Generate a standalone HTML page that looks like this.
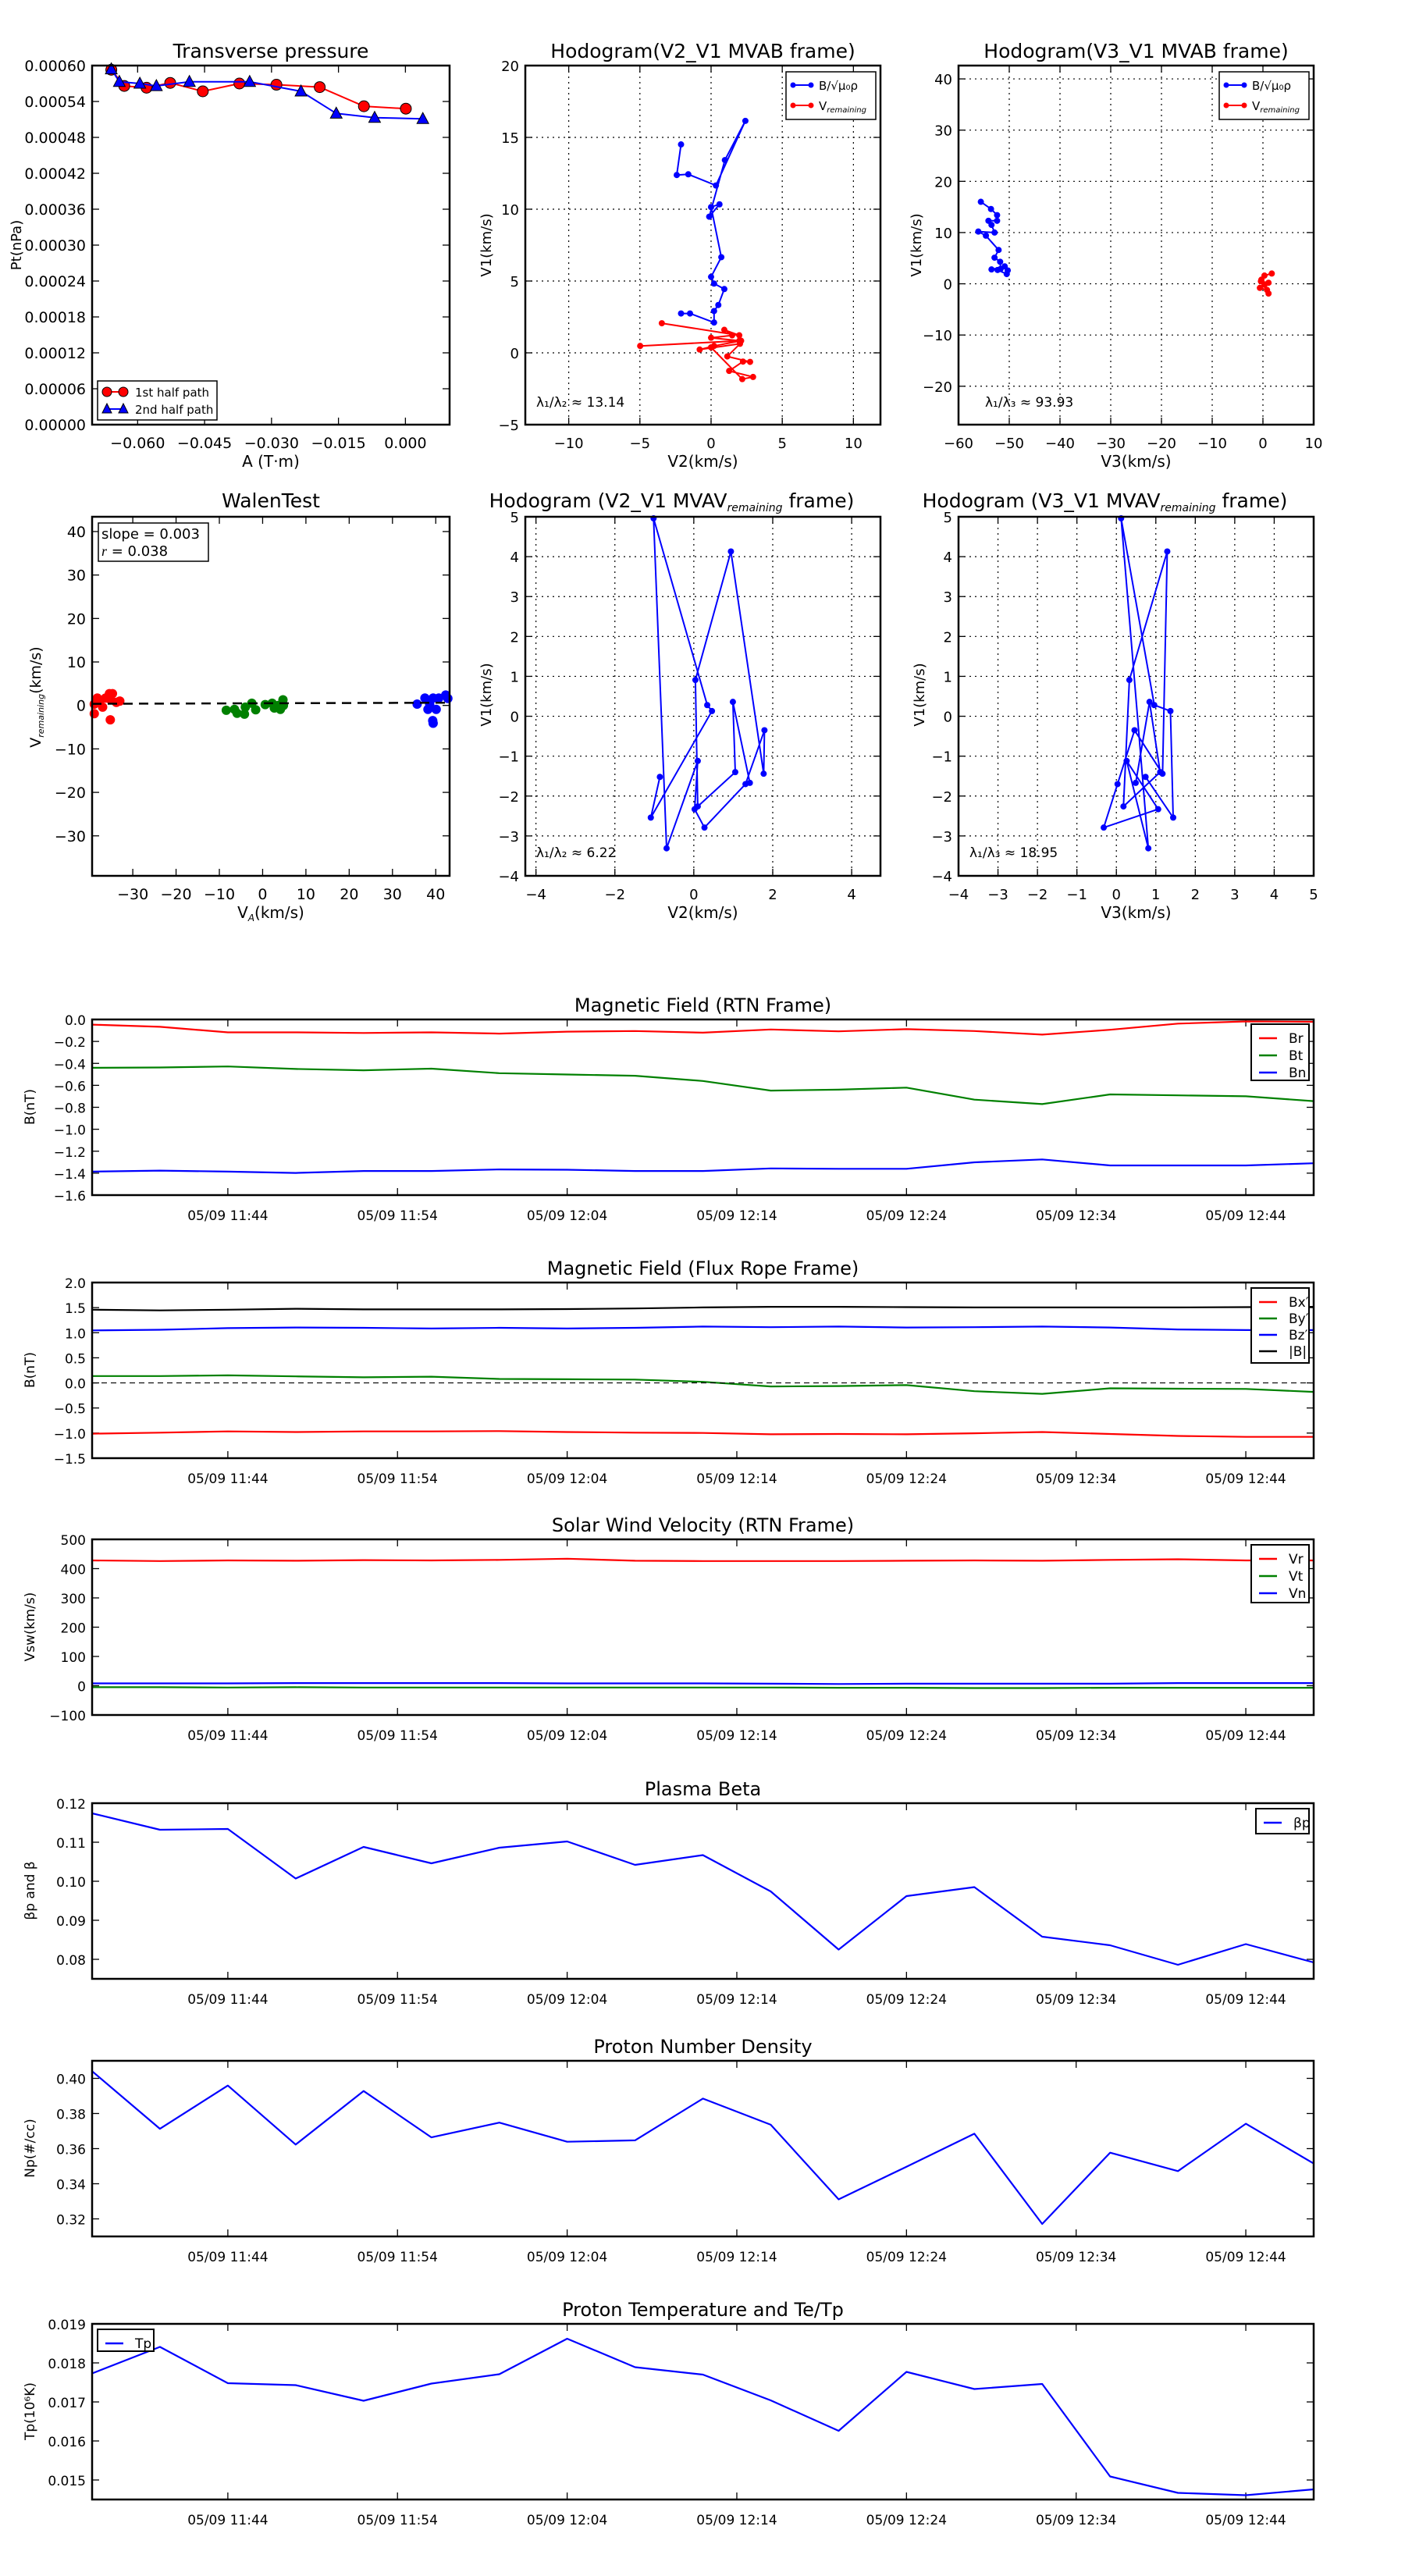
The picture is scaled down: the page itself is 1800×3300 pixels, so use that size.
<!DOCTYPE html>
<html><head><meta charset="utf-8">
<style>
html,body{margin:0;padding:0;background:#fff;}
svg{display:block;font-family:"DejaVu Sans","Liberation Sans",sans-serif;}
</style></head>
<body>
<svg id="fig" width="1800" height="3300" viewBox="0 0 1800 3300" xmlns="http://www.w3.org/2000/svg">
<rect x="0" y="0" width="1800" height="3300" fill="#fff"/>
</svg>
<script>
// ---------- data ----------
const tpRedA=[-0.0659,-0.0630,-0.0580,-0.0527,-0.0454,-0.0372,-0.0289,-0.0192,-0.0093,0.0001];
const tpRedP=[0.000593,0.000566,0.000563,0.000571,0.000557,0.000570,0.000568,0.000564,0.000532,0.000528];
const tpBlueA=[-0.0659,-0.0641,-0.0595,-0.0558,-0.0484,-0.0349,-0.0234,-0.0155,-0.0069,0.0039];
const tpBlueP=[0.000594,0.000573,0.000570,0.000566,0.000573,0.000573,0.000557,0.000520,0.000513,0.000511];

const h1BlueX=[-2.11,-1.48,0.21,0.21,0.51,0.93,0.21,0.0,0.72,0.0,0.59,-0.13,0.97,2.41,0.34,-1.6,-2.41,-2.11];
const h1BlueY=[2.74,2.74,2.11,2.91,3.33,4.44,4.82,5.29,6.66,10.15,10.34,9.48,13.42,16.15,11.65,12.43,12.38,14.51];
const h1RedX=[-3.46,1.98,0.93,1.48,0,1.98,-4.98,2.11,0.21,-0.8,2.03,1.14,2.74,2.24,1.27,2.95,2.19,0];
const h1RedY=[2.06,1.22,1.6,1.22,1.05,0.84,0.48,0.84,0.48,0.23,0.63,-0.25,-0.63,-0.61,-1.26,-1.68,-1.83,0.38];

const h2BlueX=[-55.6,-53.6,-52.4,-52.4,-54.1,-53.5,-52.9,-56.1,-54.6,-52.1,-52.9,-51.8,-51.7,-53.5,-50.9,-50.3,-50.5,-52.3];
const h2BlueY=[16.0,14.6,13.4,12.3,12.3,11.5,10.0,10.2,9.4,6.6,5.1,4.3,2.9,2.8,3.4,2.6,1.9,2.7];
const h2RedX=[1.74,0.3,-0.4,1.1,-0.6,0.8,1.1,0.3,-0.3];
const h2RedY=[2.0,1.6,0.5,0.2,-0.8,-1.2,-1.9,-0.2,0.8];

const walRedX=[-38.9,-38.2,-36.97,-36.3,-35.4,-34.7,-35.2,-33.8,-33.0,-38.9,-35.2,-37.7];
const walRedY=[0.3,1.7,-0.4,1.7,2.7,2.7,1.4,0.7,1.0,-1.9,-3.3,1.0];
const walGreenX=[-8.4,-6.5,-5.9,-4.2,-4.0,-2.5,-1.6,0.6,2.2,2.7,4.1,4.7,4.8,3.6];
const walGreenY=[-1.1,-0.9,-1.8,-2.0,-0.4,0.5,-1.0,0.2,0.5,-0.6,-0.9,1.3,0,0];
const walBlueX=[35.7,37.5,38.2,39.4,40.1,40.7,42.3,42.8,39.3,39.4,38.6];
const walBlueY=[0.3,1.7,-0.9,1.7,-0.9,1.7,2.4,1.6,-3.5,-4.1,0.3];
const walSlope=0.003, walIntercept=0.5;

const mvV2=[-0.86,-1.09,0.46,0.34,-1.02,-0.69,0.10,0.02,0.27,1.31,1.79,1.77,0.94,0.04,0.10,1.05,0.99,1.42];
const mvV3=[0.74,1.44,1.37,0.96,0.12,0.81,0.26,1.06,-0.32,0.03,0.46,1.17,1.29,0.33,0.18,1.11,0.84,0.49];
const mvV1=[-1.52,-2.54,0.13,0.28,4.96,-3.31,-1.12,-2.33,-2.79,-1.70,-0.35,-1.44,4.13,0.91,-2.26,-1.40,0.36,-1.67];

const tMin=[0,4,8,12,16,20,24,28,32,36,40,44,48,52,56,60,64,68,72];
const timeTicks=[8,18,28,38,48,58,68];
const timeLabels=["05/09 11:44","05/09 11:54","05/09 12:04","05/09 12:14","05/09 12:24","05/09 12:34","05/09 12:44"];

const Br=[-0.047,-0.067,-0.117,-0.117,-0.123,-0.117,-0.129,-0.111,-0.105,-0.120,-0.091,-0.108,-0.088,-0.105,-0.138,-0.094,-0.038,-0.018,-0.021];
const Bt=[-0.44,-0.437,-0.428,-0.451,-0.463,-0.448,-0.489,-0.501,-0.513,-0.56,-0.648,-0.639,-0.621,-0.73,-0.771,-0.683,-0.691,-0.700,-0.744];
const Bn=[-1.386,-1.377,-1.386,-1.398,-1.380,-1.380,-1.366,-1.369,-1.380,-1.380,-1.357,-1.360,-1.360,-1.301,-1.275,-1.330,-1.330,-1.330,-1.310];

const Bx=[-1.011,-0.992,-0.966,-0.979,-0.966,-0.966,-0.96,-0.979,-0.992,-0.998,-1.024,-1.017,-1.024,-1.004,-0.979,-1.017,-1.056,-1.075,-1.075];
const By=[0.137,0.137,0.150,0.130,0.111,0.124,0.079,0.072,0.066,0.021,-0.070,-0.063,-0.044,-0.166,-0.218,-0.108,-0.115,-0.121,-0.179];
const Bz=[1.046,1.059,1.091,1.104,1.097,1.084,1.097,1.084,1.097,1.123,1.110,1.123,1.104,1.110,1.123,1.104,1.065,1.052,1.052];
const Bmag=[1.458,1.445,1.458,1.478,1.465,1.465,1.465,1.471,1.484,1.504,1.516,1.516,1.51,1.504,1.504,1.504,1.504,1.51,1.516];

const Vr=[428,426,428,427,429,428,430,434,427,426,426,426,427,428,427,430,432,428,428];
const Vt=[-5,-5,-6,-5,-6,-6,-6,-6,-6,-6,-6,-7,-7,-8,-8,-7,-7,-7,-7];
const Vn=[8,8,8,9,9,9,9,8,8,8,7,6,7,7,7,7,9,9,9];

const beta=[0.1174,0.1132,0.1134,0.1007,0.1088,0.1046,0.1086,0.1102,0.1042,0.1067,0.0974,0.0825,0.0962,0.0985,0.0858,0.0836,0.0786,0.0839,0.0792];
const Np=[0.4041,0.3713,0.3959,0.3623,0.3928,0.3664,0.3748,0.3639,0.3647,0.3885,0.3736,0.3311,0.3497,0.3685,0.3171,0.3577,0.3472,0.3742,0.3515];
const Tp=[0.01773,0.01841,0.01748,0.01743,0.01703,0.01747,0.01771,0.01862,0.01789,0.01770,0.01704,0.01626,0.01777,0.01733,0.01746,0.01509,0.01467,0.01461,0.01476];

// ---------- helpers ----------
const NS='http://www.w3.org/2000/svg';
const svg=document.getElementById('fig');
function mk(tag,attrs,parent){const e=document.createElementNS(NS,tag);for(const k in attrs)e.setAttribute(k,attrs[k]);(parent||svg).appendChild(e);return e;}
function txt(s,x,y,size,parent,anchor,extra){const t=mk('text',Object.assign({x:x,y:y,'font-size':size,'text-anchor':anchor||'middle',fill:'#000'},extra||{}),parent);t.textContent=s;return t;}
function fmtNeg(s){return String(s).replace('-','\u2212');}

function makeAxes(L,T,R,B,xmin,xmax,ymin,ymax){
  return {L,T,R,B,sx:v=>L+(v-xmin)/(xmax-xmin)*(R-L),sy:v=>B-(v-ymin)/(ymax-ymin)*(B-T)};
}
function frame(ax,g){mk('rect',{x:ax.L,y:ax.T,width:ax.R-ax.L,height:ax.B-ax.T,fill:'none',stroke:'#000','stroke-width':2.5},g);}
function xTicks(ax,g,vals,labels,size,grid,off){
  vals.forEach((v,i)=>{const x=ax.sx(v);
    if(grid) mk('line',{x1:x,y1:ax.T,x2:x,y2:ax.B,stroke:'#000','stroke-width':1.2,'stroke-dasharray':'2,5'},g);
    mk('line',{x1:x,y1:ax.B,x2:x,y2:ax.B-9,stroke:'#000','stroke-width':1.3},g);
    mk('line',{x1:x,y1:ax.T,x2:x,y2:ax.T+9,stroke:'#000','stroke-width':1.3},g);
    const t=txt(labels[i],x,ax.B+(off||30),size,g);
    
    
  });
}
function yTicks(ax,g,vals,labels,size,grid){
  vals.forEach((v,i)=>{const y=ax.sy(v);
    if(grid) mk('line',{x1:ax.L,y1:y,x2:ax.R,y2:y,stroke:'#000','stroke-width':1.2,'stroke-dasharray':'2,5'},g);
    mk('line',{x1:ax.L,y1:y,x2:ax.L+9,y2:y,stroke:'#000','stroke-width':1.3},g);
    mk('line',{x1:ax.R,y1:y,x2:ax.R-9,y2:y,stroke:'#000','stroke-width':1.3},g);
    const t=txt(labels[i],ax.L-8,y+7,size,g,'end');
    
    
  });
}
function poly(ax,g,xs,ys,color,w,extra){
  const pts=xs.map((x,i)=>ax.sx(x).toFixed(1)+','+ax.sy(ys[i]).toFixed(1)).join(' ');
  return mk('polyline',Object.assign({points:pts,fill:'none',stroke:color,'stroke-width':w||2,'stroke-linejoin':'round'},extra||{}),g);
}
function dots(ax,g,xs,ys,color,r,name){
  xs.forEach((x,i)=>{const c=mk('circle',{cx:ax.sx(x),cy:ax.sy(ys[i]),r:r,fill:color,stroke:'none'},g);
    
    });
}
function ylabel(s,x,y,size,g){const t=txt(s,x,y,size,g,'middle',{transform:'rotate(-90 '+x+' '+y+')'});return t;}
function title(s,x,y,g){const t=txt(s,x,y,25,g);return t;}
function xlabel(s,x,y,g){const t=txt(s,x,y,20,g);return t;}
function grp(name){const g=mk('g',{});return g;}
function range(a,b,s){const r=[];for(let v=a;v<=b+1e-9;v+=s)r.push(Math.round(v*1e6)/1e6);return r;}

const P2L=673,P2R=1128,P3L=1228,P3R=1683,TSR=1683;

// ---------- Transverse pressure ----------
(function(){
  const g=grp('transverse-pressure-chart');
  const ax=makeAxes(118,84,576,544,-0.0702,0.0099,0,0.0006);
  title('Transverse pressure',347,74,g);
  const xt=[-0.06,-0.045,-0.03,-0.015,0];
  xTicks(ax,g,xt,xt.map(v=>fmtNeg(v.toFixed(3))),19);
  const yt=range(0,0.0006,0.00006);
  yTicks(ax,g,yt,yt.map(v=>v.toFixed(5)),19);
  poly(ax,g,tpRedA,tpRedP,'#ff0000',2);
  tpRedA.forEach((a,i)=>{const c=mk('circle',{cx:ax.sx(a),cy:ax.sy(tpRedP[i]),r:7,fill:'#ff0000',stroke:'#000','stroke-width':1},g);
    });
  poly(ax,g,tpBlueA,tpBlueP,'#0000ff',2);
  tpBlueA.forEach((a,i)=>{const x=ax.sx(a),y=ax.sy(tpBlueP[i]);
    const p=mk('polygon',{points:`${x},${y-8} ${x-7.5},${y+6} ${x+7.5},${y+6}`,fill:'#0000ff',stroke:'#000','stroke-width':1},g);
    });
  frame(ax,g);
  ylabel('Pt(nPa)',27,314,18,g);
  xlabel('A (T\u00b7m)',347,598,g);
  const lg=mk('g',{},g);
  mk('rect',{x:125,y:488,width:153,height:50,fill:'#fff',stroke:'#000','stroke-width':1.5},lg);
  mk('line',{x1:137,y1:502,x2:158,y2:502,stroke:'#f00','stroke-width':2},lg);
  mk('circle',{cx:137,cy:502,r:6,fill:'#f00',stroke:'#000'},lg);mk('circle',{cx:158,cy:502,r:6,fill:'#f00',stroke:'#000'},lg);
  txt('1st half path',173,508,15,lg,'start');
  mk('line',{x1:137,y1:524,x2:158,y2:524,stroke:'#00f','stroke-width':2},lg);
  mk('polygon',{points:'137,517 131,529 143,529',fill:'#00f',stroke:'#000'},lg);
  mk('polygon',{points:'158,517 152,529 164,529',fill:'#00f',stroke:'#000'},lg);
  txt('2nd half path',173,530,15,lg,'start');
})();

function hodoLegend(g,x,y){
  const lg=mk('g',{},g);
  mk('rect',{x:x,y:y,width:115,height:61,fill:'#fff',stroke:'#000','stroke-width':1.5},lg);
  mk('line',{x1:x+9,y1:y+17,x2:x+32,y2:y+17,stroke:'#00f','stroke-width':2},lg);
  mk('circle',{cx:x+9,cy:y+17,r:3.5,fill:'#00f'},lg);mk('circle',{cx:x+32,cy:y+17,r:3.5,fill:'#00f'},lg);
  txt('B/\u221a\u03bc\u2080\u03c1',x+42,y+23,15,lg,'start');
  mk('line',{x1:x+9,y1:y+43,x2:x+32,y2:y+43,stroke:'#f00','stroke-width':2},lg);
  mk('circle',{cx:x+9,cy:y+43,r:3.5,fill:'#f00'},lg);mk('circle',{cx:x+32,cy:y+43,r:3.5,fill:'#f00'},lg);
  const t=txt('V',x+42,y+49,15,lg,'start');
  const s=mk('tspan',{'font-size':10,'font-style':'italic',dy:3},t);s.textContent='remaining';
}

// ---------- Hodogram V2_V1 MVAB ----------
(function(){
  const g=grp('hodogram-v2-v1-mvab');
  const ax=makeAxes(P2L,84,P2R,544,-13.05,11.9,-5,20);
  title('Hodogram(V2_V1 MVAB frame)',(P2L+P2R)/2,74,g);
  const xt=[-10,-5,0,5,10];xTicks(ax,g,xt,xt.map(fmtNeg),18,true);
  const yt=[-5,0,5,10,15,20];yTicks(ax,g,yt,yt.map(fmtNeg),18,true);
  poly(ax,g,h1BlueX,h1BlueY,'#00f',2);dots(ax,g,h1BlueX,h1BlueY,'#00f',4,'b-point');
  poly(ax,g,h1RedX,h1RedY,'#f00',2);dots(ax,g,h1RedX,h1RedY,'#f00',4,'v-remaining-point');
  frame(ax,g);
  hodoLegend(g,P2R-121,92);
  const t=txt('\u03bb\u2081/\u03bb\u2082 \u2248 13.14',P2L+14,521,17,g,'start');
  ylabel('V1(km/s)',P2L-44,314,18,g);
  xlabel('V2(km/s)',(P2L+P2R)/2,598,g);
})();

// ---------- Hodogram V3_V1 MVAB ----------
(function(){
  const g=grp('hodogram-v3-v1-mvab');
  const ax=makeAxes(P3L,84,P3R,544,-60,10,-27.5,42.6);
  title('Hodogram(V3_V1 MVAB frame)',(P3L+P3R)/2,74,g);
  const xt=[-60,-50,-40,-30,-20,-10,0,10];xTicks(ax,g,xt,xt.map(fmtNeg),18,true);
  const yt=[-20,-10,0,10,20,30,40];yTicks(ax,g,yt,yt.map(fmtNeg),18,true);
  poly(ax,g,h2BlueX,h2BlueY,'#00f',2);dots(ax,g,h2BlueX,h2BlueY,'#00f',4,'b-point');
  poly(ax,g,h2RedX,h2RedY,'#f00',2);dots(ax,g,h2RedX,h2RedY,'#f00',4,'v-remaining-point');
  frame(ax,g);
  hodoLegend(g,P3R-121,92);
  const t=txt('\u03bb\u2081/\u03bb\u2083 \u2248 93.93',P3L+34,521,17,g,'start');
  ylabel('V1(km/s)',P3L-48,314,18,g);
  xlabel('V3(km/s)',(P3L+P3R)/2,598,g);
})();

// ---------- Walen test ----------
(function(){
  const g=grp('walen-test-chart');
  const ax=makeAxes(118,662,576,1122,-39.4,43.2,-39.2,43.4);
  title('WalenTest',347,650,g);
  const xt=[-30,-20,-10,0,10,20,30,40];xTicks(ax,g,xt,xt.map(fmtNeg),19);
  const yt=[-30,-20,-10,0,10,20,30,40];yTicks(ax,g,yt,yt.map(fmtNeg),19);
  dots(ax,g,walRedX,walRedY,'#f00',6,'walen-point-red');
  dots(ax,g,walGreenX,walGreenY,'#008000',6,'walen-point-green');
  dots(ax,g,walBlueX,walBlueY,'#00f',6,'walen-point-blue');
  const fx=[-39.4,43.2],fy=fx.map(x=>walSlope*x+walIntercept);
  const fl=poly(ax,g,fx,fy,'#000',2.5,{'stroke-dasharray':'12,8'});
  frame(ax,g);
  const bx=mk('g',{},g);
  mk('rect',{x:126,y:670,width:141,height:49,fill:'#fff',stroke:'#000','stroke-width':1.5},bx);
  txt('slope = 0.003',130,690,18,bx,'start');
  const r=txt('',130,712,18,bx,'start');const ri=mk('tspan',{'font-style':'italic','font-family':'"Liberation Serif",serif'},r);ri.textContent='r';const rr=mk('tspan',{},r);rr.textContent=' = 0.038';
  const yl=ylabel('V',52,893,19,g);const ys=mk('tspan',{'font-size':11,'font-style':'italic',dy:4},yl);ys.textContent='remaining';const yk=mk('tspan',{dy:-4},yl);yk.textContent='(km/s)';
  const xl=xlabel('V',347,1176,g);const xs=mk('tspan',{'font-size':12,'font-style':'italic',dy:4},xl);xs.textContent='A';const xk=mk('tspan',{dy:-4},xl);xk.textContent='(km/s)';
})();

// ---------- MVAV hodograms ----------
function mvav(name,L,R,xmin,xmax,xs,xt,xlab,tt,ratio){
  const g=grp(name);
  const ax=makeAxes(L,662,R,1122,xmin,xmax,-4,5);
  const t=txt('Hodogram ('+tt+' MVAV',(L+R)/2-40,650,25,g);
  const s=mk('tspan',{'font-size':14,'font-style':'italic',dy:5},t);s.textContent='remaining';
  const s2=mk('tspan',{dy:-5},t);s2.textContent=' frame)';
  xTicks(ax,g,xt,xt.map(fmtNeg),18,true);
  const yt=[-4,-3,-2,-1,0,1,2,3,4,5];yTicks(ax,g,yt,yt.map(fmtNeg),18,true);
  poly(ax,g,xs,mvV1,'#00f',2);dots(ax,g,xs,mvV1,'#00f',4,'hodogram-point');
  frame(ax,g);
  const r=txt(ratio,L+14,1098,17,g,'start');
  ylabel('V1(km/s)',L-44,890,18,g);
  xlabel(xlab,(L+R)/2,1176,g);
}
mvav('hodogram-v2-v1-mvav',P2L,P2R,-4.27,4.73,mvV2,[-4,-2,0,2,4],'V2(km/s)','V2_V1','\u03bb\u2081/\u03bb\u2082 \u2248 6.22');
mvav('hodogram-v3-v1-mvav',P3L,P3R,-4,5,mvV3,[-4,-3,-2,-1,0,1,2,3,4,5],'V3(km/s)','V3_V1','\u03bb\u2081/\u03bb\u2083 \u2248 18.95');

// ---------- time series ----------
function tsPanel(name,T,ymin,ymax,yt,ylab,ylabText,series,legend,ttl){
  const g=grp(name);
  const ax=makeAxes(118,T,TSR,T+225,0,72,ymin,ymax);
  const tt=txt(ttl,(118+TSR)/2,T-10,24,g);
  xTicks(ax,g,timeTicks,timeLabels,17,false,32);
  yTicks(ax,g,yt,ylab,17);
  series.forEach(s=>{const p=poly(ax,g,tMin,s.v,s.c,2.2);});
  frame(ax,g);
  ylabel(ylabText,44,T+112,17,g);
  if(legend){
    const lg=mk('g',{},g);
    mk('rect',{x:legend.x,y:legend.y,width:legend.w,height:legend.h,fill:'#fff',stroke:'#000','stroke-width':2},lg);
    series.forEach((s,i)=>{const y=legend.y+18+i*(legend.step||22);
      mk('line',{x1:legend.x+10,y1:y,x2:legend.x+33,y2:y,stroke:s.c,'stroke-width':2.5},lg);
      txt(s.label||s.n,legend.x+48,y+6,17,lg,'start');});
  }
  return {g,ax};
}
const fmt1=v=>fmtNeg(v.toFixed(1));
let yt=range(-1.6,0,0.2);
tsPanel('magnetic-field-rtn',1306,-1.6,0,yt,yt.map(fmt1),'B(nT)',
  [{n:'Br',v:Br,c:'#f00'},{n:'Bt',v:Bt,c:'#008000'},{n:'Bn',v:Bn,c:'#00f'}],
  {x:1603,y:1312,w:74,h:72},'Magnetic Field (RTN Frame)');
yt=range(-1.5,2,0.5);
const fr=tsPanel('magnetic-field-flux-rope',1643,-1.5,2,yt,yt.map(fmt1),'B(nT)',
  [{n:'Bx\u2032',v:Bx,c:'#f00'},{n:'By\u2032',v:By,c:'#008000'},{n:'Bz\u2032',v:Bz,c:'#00f'},{n:'|B|',v:Bmag,c:'#000'}],
  {x:1603,y:1650,w:74,h:96,step:21},'Magnetic Field (Flux Rope Frame)');
(function(){const z=mk('line',{x1:118,y1:fr.ax.sy(0),x2:TSR,y2:fr.ax.sy(0),stroke:'#000','stroke-width':1.2,'stroke-dasharray':'7,5'},fr.g);})();
yt=range(-100,500,100);
tsPanel('solar-wind-velocity',1972,-100,500,yt,yt.map(v=>fmtNeg(v)),'Vsw(km/s)',
  [{n:'Vr',v:Vr,c:'#f00'},{n:'Vt',v:Vt,c:'#008000'},{n:'Vn',v:Vn,c:'#00f'}],
  {x:1603,y:1979,w:74,h:74},'Solar Wind Velocity (RTN Frame)');
yt=[0.08,0.09,0.10,0.11,0.12];
tsPanel('plasma-beta',2310,0.075,0.12,yt,yt.map(v=>v.toFixed(2)),'\u03b2p and \u03b2',
  [{n:'beta-p',v:beta,c:'#00f',label:'\u03b2p'}],
  {x:1609,y:2317,w:68,h:32},'Plasma Beta');
yt=[0.32,0.34,0.36,0.38,0.40];
tsPanel('proton-number-density',2640,0.31,0.41,yt,yt.map(v=>v.toFixed(2)),'Np(#/cc)',
  [{n:'Np',v:Np,c:'#00f'}],null,'Proton Number Density');
yt=[0.015,0.016,0.017,0.018,0.019];
tsPanel('proton-temperature',2977,0.0145,0.019,yt,yt.map(v=>v.toFixed(3)),'Tp(10\u2076K)',
  [{n:'Tp',v:Tp,c:'#00f'}],{x:125,y:2984,w:72,h:28},'Proton Temperature and Te/Tp');
</script>
</body></html>
